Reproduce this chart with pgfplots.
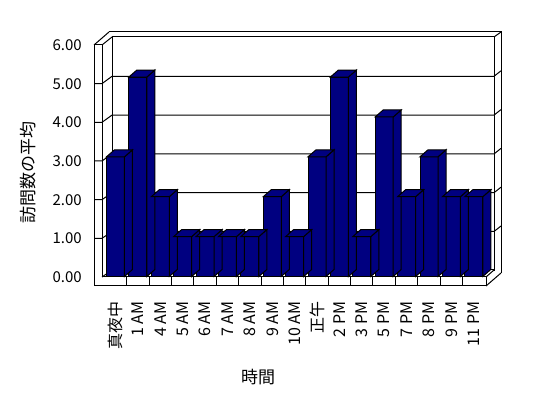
\documentclass[border=0pt]{standalone}
\usepackage{fontspec}
\setmainfont{Noto Sans CJK JP}
\usepackage{pgfplots}
\usepackage{pgfplotstable}
\pgfplotsset{compat=1.18}
\definecolor{navyb}{RGB}{0,0,128}

\pgfplotstableread{
x y
0 3
1 5
2 2
3 1
4 1
5 1
6 1
7 2
8 1
9 3
10 5
11 1
12 4
13 2
14 3
15 2
16 2
}\barsdata

% side and top faces of a 3D column, drawn at the top centre of its front face
\pgfdeclareplotmark{bar3d}{%
  \pgfmathsetmacro\hh{\rawy*39.9}%
  \pgfpathmoveto{\pgfpoint{9pt}{0pt}}%
  \pgfpathlineto{\pgfpoint{17pt}{7pt}}%
  \pgfpathlineto{\pgfpoint{17pt}{7pt-\hh pt}}%
  \pgfpathlineto{\pgfpoint{9pt}{-\hh pt}}%
  \pgfpathclose
  \pgfusepathqfillstroke
  \pgfpathmoveto{\pgfpoint{-9pt}{0pt}}%
  \pgfpathlineto{\pgfpoint{-1pt}{7pt}}%
  \pgfpathlineto{\pgfpoint{17pt}{7pt}}%
  \pgfpathlineto{\pgfpoint{9pt}{0pt}}%
  \pgfpathclose
  \pgfusepathqfillstroke
}

\begin{document}
\begin{tikzpicture}[line width=1pt]
\useasboundingbox (0,0) rectangle (548pt,398pt);
% ---- walls and floor (pixel coordinates, y downwards)
\begin{scope}[x=1pt,y=-1pt,shift={(0pt,398pt)}]
  % back wall
  \draw (109,32)--(501,32)--(501,273);
  \draw (112,270)--(112,37)--(494,37)--(494,271);
  \draw (494,37)--(501,32);
  \draw (112,270)--(494,270);
  % left wall
  \draw (94,286)--(94,45)--(102,45)--(102,277);
  \draw (94,45)--(109,32);
  \draw (102,45)--(112,37);
  \draw (102,277)--(112,270);
  % floor
  \draw (94,286)--(486,286)--(486,277)--(102,277);
  \draw (486,286)--(501,273);
  \draw (486,277)--(494,270);
  \foreach \k in {1,...,16}{
    \pgfmathsetmacro\xx{104.3+\k*22.39}
    \draw (\xx,277)--(\xx,286);
  }
  % gridlines
  \foreach \v in {1,...,5}{
    \pgfmathsetmacro\yf{277-\v*38.67}
    \pgfmathsetmacro\yb{270.3-\v*38.8}
    \draw (94,\yf)--(102,\yf)--(112,\yb)--(494,\yb)--(501,{\yb-5.5});
  }
\end{scope}
% ---- value labels of the front scale
\begin{axis}[at={(94pt,121pt)}, anchor=south west, scale only axis,
  width=8pt, height=232pt, xmin=0, xmax=1, ymin=0, ymax=6,
  hide x axis, axis line style={draw=none}, tick style={draw=none},
  ytick={0,1,...,6},
  yticklabel={\pgfmathprintnumber[fixed,fixed zerofill,precision=2,assume math mode=true]{\tick}},
  yticklabel style={font=\fontsize{15}{18}\selectfont, inner sep=0pt, xshift=-12pt}]
\end{axis}
% ---- columns
\begin{axis}[at={(104.3pt,121.5pt)}, anchor=south west, scale only axis,
  width=380.7pt, height=239.4pt, xmin=-0.5, xmax=16.5, ymin=0, ymax=6,
  clip=false, axis line style={draw=none}, tick style={draw=none},
  ytick=\empty, xtick={0,...,16},
  xticklabels={真夜中,1 AM,4 AM,5 AM,6 AM,7 AM,8 AM,9 AM,10 AM,正午,2 PM,3 PM,5 PM,7 PM,8 PM,9 PM,11 PM},
  xticklabel style={rotate=90, anchor=east, inner sep=0pt, font=\fontsize{16}{19}\selectfont},
  xticklabel shift=25pt]
\addplot[only marks, mark=bar3d, visualization depends on={rawy \as \rawy},
  mark options={draw=black, fill=navyb, line width=1pt}] table[x=x,y=y] {\barsdata};
\addplot[ybar, bar width=18pt, fill=navyb, draw=black, line width=1pt] table[x=x,y=y] {\barsdata};
\end{axis}
% ---- axis titles
\node[rotate=90, font=\fontsize{17}{20}\selectfont] at (28pt,225pt) {訪問数の平均};
\node[font=\fontsize{17}{20}\selectfont] at (258pt,21pt) {時間};
\end{tikzpicture}
\end{document}
